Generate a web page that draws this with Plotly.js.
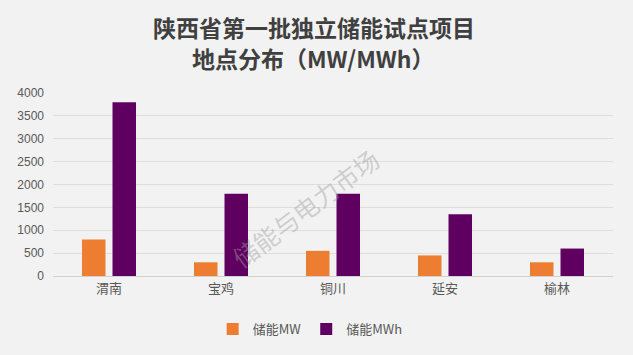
<!DOCTYPE html>
<html>
<head>
<meta charset="utf-8">
<script src="https://cdn.plot.ly/plotly-3.0.1.min.js"></script>
<style>
html,body{margin:0;padding:0;background:#f2f2f2;}
#chart{width:633px;height:355px;}
</style>
</head>
<body>
<div id="chart"></div>
<script>
const categories = ["渭南", "宝鸡", "铜川", "延安", "榆林"];
const seriesNames = ["储能MW", "储能MWh"];
const valuesMW = [800, 300, 550, 450, 300];
const valuesMWh = [3800, 1800, 1800, 1350, 600];
const yTicks = [0, 500, 1000, 1500, 2000, 2500, 3000, 3500, 4000];
const titleLines = ["陕西省第一批独立储能试点项目", "地点分布（MW/MWh）"];

const font = "'Noto Sans CJK SC', 'Noto Sans', sans-serif";

const data = [
  {type: "bar", name: seriesNames[0], x: categories, y: valuesMW,
   marker: {color: "#ed7d31"}, hoverinfo: "x+y"},
  {type: "bar", name: seriesNames[1], x: categories, y: valuesMWh,
   marker: {color: "#5f0060"}, hoverinfo: "x+y"}
];

const layout = {
  width: 633, height: 355,
  paper_bgcolor: "#f2f2f2", plot_bgcolor: "#f2f2f2",
  margin: {l: 53, r: 20, t: 93, b: 79, autoexpand: false},
  barmode: "group", bargap: 0.455, bargroupgap: 0.23,
  xaxis: {
    type: "category",
    tickfont: {family: font, size: 13, color: "#595959"},
    showline: true, linecolor: "#d0d0d0", linewidth: 1,
    ticks: "", showgrid: false, zeroline: false, automargin: false
  },
  yaxis: {
    range: [0, 4000], tickvals: yTicks, ticktext: yTicks.map(String),
    tickfont: {family: "'Liberation Sans', Arial, sans-serif", size: 12, color: "#595959"},
    gridcolor: "#dedede", gridwidth: 1, zeroline: false, showline: false,
    ticks: "", ticklabelstandoff: 8, automargin: false
  },
  showlegend: true,
  legend: {
    orientation: "h", xref: "container", yref: "container",
    x: 0.49, xanchor: "center", y: 0.073, yanchor: "middle",
    font: {family: font, size: 13, color: "#595959"},
    bgcolor: "rgba(0,0,0,0)", itemwidth: 30
  },
  annotations: [
    {text: "<b>" + titleLines[0] + "</b>", xref: "paper", yref: "paper",
     x: 0.466, y: 1.362, xanchor: "center", yanchor: "middle", showarrow: false,
     font: {family: font, size: 23, color: "#404040"}},
    {text: "<b>" + titleLines[1] + "</b>", xref: "paper", yref: "paper",
     x: 0.466, y: 1.19, xanchor: "center", yanchor: "middle", showarrow: false,
     font: {family: font, size: 23, color: "#404040"}},
    {text: "储能与电力市场", xref: "paper", yref: "paper", x: 0.45, y: 0.37,
     showarrow: false, textangle: -37,
     font: {family: font, size: 25, color: "rgba(160,160,160,0.45)"}}
  ]
};

Plotly.newPlot("chart", data, layout, {displayModeBar: false, staticPlot: true});
</script>
</body>
</html>
